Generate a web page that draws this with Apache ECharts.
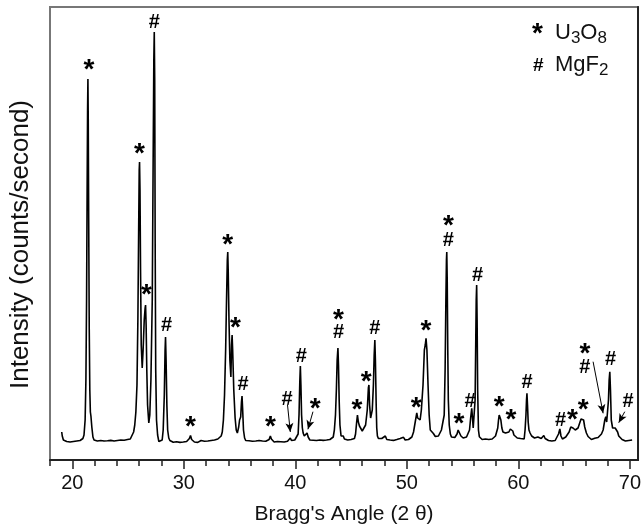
<!DOCTYPE html>
<html>
<head>
<meta charset="utf-8">
<script src="https://cdn.jsdelivr.net/npm/echarts@6/dist/echarts.min.js"></script>
<style>html,body{margin:0;padding:0;background:#fff}#c{width:644px;height:532px}</style>
</head>
<body>
<div id="c"></div>
<script>
const twoTheta = [19.05,19.1,19.2,19.35,19.5,19.65,19.8,19.95,20.1,20.25,20.4,20.55,20.7,20.85,20.95,21.05,21.15,21.22,21.28,21.33,21.37,21.4,21.43,21.47,21.52,21.57,21.62,21.67,21.75,21.85,21.95,22.1,22.25,22.4,22.55,22.7,22.85,23.0,23.15,23.3,23.45,23.6,23.75,23.9,24.05,24.2,24.35,24.5,24.65,24.8,24.95,25.1,25.2,25.35,25.5,25.6,25.7,25.8,25.88,25.95,26.0,26.03,26.07,26.12,26.18,26.27,26.35,26.45,26.53,26.57,26.62,26.68,26.75,26.86,26.95,27.05,27.17,27.25,27.31,27.35,27.39,27.43,27.48,27.55,27.65,27.76,27.9,28.06,28.15,28.25,28.32,28.36,28.41,28.48,28.55,28.65,28.75,28.9,29.05,29.2,29.35,29.5,29.65,29.8,29.95,30.1,30.25,30.4,30.5,30.6,30.7,30.8,30.95,31.1,31.25,31.4,31.55,31.7,31.85,32.0,32.15,32.3,32.45,32.6,32.75,32.9,33.05,33.2,33.35,33.45,33.55,33.65,33.75,33.83,33.9,33.94,33.98,34.05,34.13,34.22,34.28,34.33,34.38,34.48,34.6,34.7,34.8,34.92,35.0,35.1,35.17,35.22,35.27,35.35,35.45,35.55,35.7,35.85,36.0,36.15,36.3,36.45,36.6,36.75,36.9,37.05,37.2,37.35,37.5,37.65,37.76,37.85,37.95,38.1,38.25,38.4,38.55,38.7,38.85,39.0,39.15,39.3,39.45,39.55,39.65,39.8,39.95,40.1,40.25,40.33,40.4,40.45,40.5,40.56,40.63,40.7,40.8,40.95,41.05,41.15,41.3,41.45,41.6,41.75,41.9,42.05,42.2,42.35,42.5,42.65,42.8,42.95,43.1,43.25,43.4,43.5,43.6,43.68,43.75,43.82,43.87,43.93,44.0,44.1,44.2,44.3,44.4,44.55,44.7,44.85,45.0,45.15,45.3,45.4,45.5,45.57,45.65,45.75,45.88,46.0,46.15,46.3,46.45,46.55,46.6,46.66,46.75,46.8,46.9,47.0,47.07,47.13,47.18,47.25,47.3,47.36,47.45,47.6,47.75,47.9,48.07,48.2,48.35,48.5,48.65,48.8,48.95,49.1,49.25,49.4,49.55,49.7,49.85,50.0,50.15,50.3,50.45,50.6,50.75,50.89,50.97,51.05,51.19,51.3,51.45,51.57,51.65,51.72,51.8,51.9,52.0,52.1,52.2,52.38,52.55,52.7,52.83,52.95,53.1,53.27,53.35,53.43,53.5,53.55,53.58,53.62,53.67,53.72,53.8,53.9,54.0,54.15,54.3,54.38,54.5,54.6,54.68,54.76,54.85,54.92,55.05,55.2,55.35,55.5,55.62,55.72,55.82,55.88,55.95,56.05,56.12,56.18,56.22,56.26,56.3,56.35,56.42,56.5,56.6,56.75,56.9,57.05,57.2,57.35,57.5,57.65,57.8,57.95,58.05,58.15,58.22,58.28,58.35,58.43,58.52,58.62,58.75,58.85,59.0,59.15,59.28,59.4,59.5,59.6,59.75,59.9,60.05,60.2,60.35,60.52,60.6,60.68,60.73,60.77,60.82,60.88,60.95,61.05,61.19,61.3,61.45,61.6,61.75,61.9,62.05,62.15,62.28,62.4,62.55,62.7,62.85,63.0,63.15,63.3,63.45,63.6,63.72,63.82,63.95,64.1,64.25,64.4,64.55,64.7,64.82,64.9,65.0,65.1,65.22,65.35,65.5,65.62,65.75,65.85,65.95,66.1,66.25,66.4,66.55,66.7,66.85,67.0,67.15,67.3,67.45,67.6,67.75,67.84,67.92,68.0,68.08,68.14,68.2,68.26,68.33,68.45,68.56,68.68,68.8,68.9,69.0,69.15,69.3,69.45,69.6,69.75,69.9,70.05,70.2];
const intensity = [280,240,200,190,185,200,180,195,185,200,190,205,195,200,215,250,400,800,1600,2700,3500,3810,3400,2400,1300,700,480,440,330,230,200,185,190,175,195,180,190,178,192,182,196,184,190,178,195,186,200,188,198,190,205,200,210,230,280,350,480,750,1400,2300,2900,2980,2700,1900,1150,920,1100,1400,1520,1550,1350,900,550,370,450,800,1600,3000,4000,4280,3800,2200,900,400,250,185,195,200,300,650,1100,1230,1000,550,300,220,195,185,178,190,182,188,176,190,180,192,185,195,215,245,205,185,180,190,176,185,195,182,188,200,190,205,195,210,200,215,210,220,240,280,400,650,1100,1600,2000,2080,1900,1400,1000,830,1150,1250,1100,700,420,300,270,330,400,430,580,640,520,300,220,195,185,192,180,188,178,190,182,195,185,190,178,188,192,205,240,210,190,180,192,185,195,183,190,180,195,188,200,220,195,190,200,210,260,450,780,940,750,450,320,270,240,250,270,230,200,190,198,185,195,188,200,190,196,185,200,195,205,210,230,300,450,700,1000,1120,950,600,350,240,220,240,210,195,200,190,205,200,215,260,380,450,380,340,330,290,280,350,500,720,750,550,420,400,500,750,1050,1200,1000,550,320,240,215,200,215,205,240,205,192,200,188,196,190,205,195,215,200,227,200,195,205,200,230,280,380,470,420,400,400,500,750,1100,1150,1217,1100,750,450,300,280,265,235,250,240,260,300,320,450,900,1600,2000,2080,1800,1100,600,350,260,230,210,225,240,260,300,317,280,240,233,220,215,230,250,300,420,517,430,320,300,600,1200,1600,1750,1400,700,300,233,215,205,200,210,195,205,200,210,205,240,260,320,400,450,467,400,320,280,265,270,260,280,310,323,290,250,230,220,205,215,210,210,300,450,600,667,550,380,300,270,240,235,220,215,230,225,215,220,245,215,205,195,200,190,200,195,210,260,310,240,210,215,230,250,280,330,350,320,305,300,307,320,370,410,427,400,330,270,235,220,205,215,217,220,225,240,260,300,400,433,380,400,600,800,883,700,400,320,300,320,333,280,240,220,205,200,190,200,195,185,200];

// phase markers: * = U3O8, # = MgF2 (position of each marker glyph)
const markX = [21.49,26.03,26.66,27.35,28.45,30.6,33.94,34.62,35.31,37.76,39.25,40.53,41.79,43.87,43.87,45.52,46.35,47.13,50.83,51.72,53.72,53.72,54.68,55.66,56.35,58.29,59.34,60.79,63.78,64.86,65.81,65.96,65.96,68.26,69.83];
const markY = [3933,3093,1683,4383,1360,367,2183,1360,767,367,617,1050,550,1433,1283,533,817,1327,560,1327,2373,2207,400,600,1860,567,433,783,407,440,533,1100,933,1017,600];
const markText = ['*','*','*','#','#','*','*','*','#','*','#','#','*','*','#','*','*','#','*','*','*','#','*','#','#','*','*','#','#','*','*','*','#','#','#'];

// arrows from a marker to its small peak
const arrowStart = [[39.3,550],[41.58,483],[66.7,983],[69.54,483]];
const arrowEnd = [[39.55,280],[41.13,307],[67.6,467],[69.0,373]];

const xTickLabels = [20,30,40,50,60,70];
const xMinorTicks = [18,22,24,26,28,32,34,36,38,42,44,46,48,52,54,56,58,62,64,66,68,70];

const lineData = twoTheta.map((x,i)=>[x,intensity[i]]);
const starData = [], hashData = [];
markX.forEach((x,i)=>{ (markText[i]==='*'?starData:hashData).push([x,markY[i]]); });

const chart = echarts.init(document.getElementById('c'));
const FONT = 'Liberation Sans, Arial, sans-serif';
const lbl = {show:true,position:'inside',color:'#000',opacity:1,fontFamily:FONT,fontWeight:'bold',textBorderWidth:0,textBorderColor:'transparent'};
chart.setOption({
  animation:false,
  grid:{left:49.5,right:5,top:7,bottom:72,show:true,borderColor:'#777',borderWidth:2,backgroundColor:'transparent'},
  xAxis:[{
    type:'value',min:18,max:70.73,position:'bottom',
    axisLine:{show:true,lineStyle:{color:'#222',width:2}},
    axisTick:{show:true,inside:false,length:6,customValues:xMinorTicks,lineStyle:{color:'#222',width:1.5}},
    axisLabel:{show:true,customValues:xTickLabels,margin:13,fontSize:20,color:'#111',fontFamily:FONT},
    splitLine:{show:false},
    name:"Bragg's Angle (2 θ)",nameLocation:'middle',nameGap:44,
    nameTextStyle:{fontSize:21,color:'#111',fontFamily:FONT}
  },{
    type:'value',min:18,max:70.73,position:'bottom',
    axisLine:{show:false},
    axisTick:{show:true,inside:false,length:9,customValues:xTickLabels,lineStyle:{color:'#222',width:1.5}},
    axisLabel:{show:false},splitLine:{show:false}
  }],
  yAxis:[{
    type:'value',min:0,max:4530,
    axisLine:{show:true,lineStyle:{color:'#777',width:2}},
    axisTick:{show:false},axisLabel:{show:false},splitLine:{show:false},
    name:'Intensity (counts/second)',nameLocation:'middle',nameGap:16,nameRotate:90,
    nameTextStyle:{fontSize:26,color:'#111',fontFamily:FONT,padding:[0,22,0,0]}
  },{
    type:'value',min:0,max:4530,position:'right',
    axisLine:{show:true,lineStyle:{color:'#222',width:2}},
    axisTick:{show:false},axisLabel:{show:false},splitLine:{show:false}
  }],
  series:[{
    type:'line',data:lineData,showSymbol:false,symbol:'none',
    lineStyle:{color:'#000',width:1.6},silent:true
  },{
    type:'scatter',data:starData,symbolSize:0,silent:true,itemStyle:{opacity:1},
    label:Object.assign({},lbl,{formatter:'*',fontSize:28,offset:[0,4]})
  },{
    type:'scatter',data:hashData,symbolSize:0,silent:true,itemStyle:{opacity:1},
    label:Object.assign({},lbl,{formatter:'#',fontSize:20,offset:[0,1]}),
    markLine:{silent:true,symbol:['none','arrow'],symbolSize:[6,9],
      label:{show:false},lineStyle:{color:'#000',width:1,type:'solid',opacity:1},itemStyle:{color:'#000'},
      data:arrowStart.map((s,i)=>[{coord:s},{coord:arrowEnd[i]}])}
  }],
  graphic:[
    {type:'text',left:532,top:20,style:{text:'*',font:'bold 28px '+FONT,fill:'#000'}},
    {type:'text',left:555,top:22,style:{text:'{a|U}{s|3}{a|O}{s|8}',rich:{a:{fontSize:22,fontFamily:FONT,fill:'#111'},s:{fontSize:17,fontFamily:FONT,fill:'#111',padding:[10,0,0,0]}}}},
    {type:'text',left:533,top:56,style:{text:'#',font:'bold 19px '+FONT,fill:'#000'}},
    {type:'text',left:555,top:54,style:{text:'{a|MgF}{s|2}',rich:{a:{fontSize:22,fontFamily:FONT,fill:'#111'},s:{fontSize:17,fontFamily:FONT,fill:'#111',padding:[10,0,0,0]}}}}
  ]
});
</script>
</body>
</html>
